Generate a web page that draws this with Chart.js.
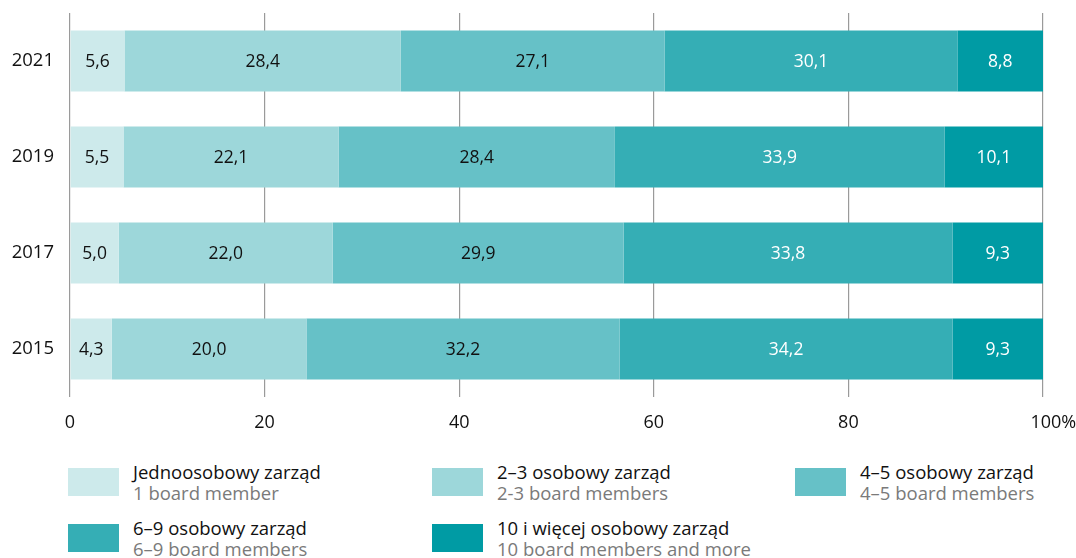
<!DOCTYPE html>
<html>
<head>
<meta charset="utf-8">
<script src="https://cdn.jsdelivr.net/npm/chart.js@4"></script>
<style>
  body{ margin:0; background:#fff; font-family:"Open Sans", sans-serif; }
  #wrap{ position:relative; width:1076px; height:558px; }
  #chart{ position:absolute; left:0; top:0; }
  #legend{ position:absolute; left:68px; top:458px; display:grid; grid-template-columns:364px 363px 280px; grid-auto-rows:56px; }
  .item{ display:flex; align-items:flex-start; }
  .sw{ width:51px; height:28px; margin-top:10px; flex:none; }
  .txt{ margin-left:14px; margin-top:3px; font-size:18.5px; line-height:21px; white-space:nowrap; }
  .pl{ color:#111; }
  .en{ color:#7a7a7a; }
</style>
</head>
<body>
<div id="wrap">
  <canvas id="chart" width="1076" height="445"></canvas>
  <div id="legend"></div>
</div>
<script>
// Board size structure by year
const years = ['2021','2019','2017','2015'];
const oneMember   = [5.6, 5.5, 5.0, 4.3];
const twoThree    = [28.4, 22.1, 22.0, 20.0];
const fourFive    = [27.1, 28.4, 29.9, 32.2];
const sixNine     = [30.1, 33.9, 33.8, 34.2];
const tenPlus     = [8.8, 10.1, 9.3, 9.3];
const xTicks      = [0, 20, 40, 60, 80, 100];

const namesPL = ['Jednoosobowy zarząd','2–3 osobowy zarząd','4–5 osobowy zarząd','6–9 osobowy zarząd','10 i więcej osobowy zarząd'];
const namesEN = ['1 board member','2-3 board members','4–5 board members','6–9 board members','10 board members and more'];
const colors  = ['#cdeaeb','#9dd7da','#66c1c7','#35aeb5','#009ba4'];
const labelColors = ['#111','#111','#111','#fff','#fff'];
const series = [oneMember, twoThree, fourFive, sixNine, tenPlus];

const FONT = '"Open Sans", sans-serif';

const valueLabels = {
  id:'valueLabels',
  afterDatasetsDraw(chart){
    const ctx = chart.ctx;
    ctx.save();
    ctx.font = '17.5px ' + FONT;
    ctx.textAlign = 'center'; ctx.textBaseline = 'middle';
    chart.data.datasets.forEach((ds,i)=>{
      chart.getDatasetMeta(i).data.forEach((bar,j)=>{
        const v = ds.data[j];
        const x = (bar.x + bar.base)/2;
        ctx.fillStyle = labelColors[i];
        ctx.fillText(v.toFixed(1).replace('.',','), x, bar.y + 1);
      });
    });
    ctx.restore();
  }
};

new Chart(document.getElementById('chart'), {
  type:'bar',
  data:{
    labels: years,
    datasets: series.map((d,i)=>({ label:namesPL[i], data:d, backgroundColor:colors[i], borderWidth:0,
      barPercentage:0.635, categoryPercentage:1 }))
  },
  options:{
    indexAxis:'y', responsive:false, animation:false,
    layout:{ padding:{ top:13, right:33, left:0, bottom:0 } },
    plugins:{ legend:{ display:false }, tooltip:{ enabled:false } },
    scales:{
      x:{ stacked:true, min:0, max:100,
        afterBuildTicks(s){ s.ticks = xTicks.map(v=>({value:v})); },
        afterFit(s){ s.height = 48; s.paddingLeft = 0; s.paddingRight = 0; },
        border:{ display:false },
        grid:{ color:'#9a9a9a', lineWidth:1.2, drawTicks:false },
        ticks:{ padding:15, color:'#111', font:{ family:FONT, size:18 },
          // keep "100" under the gridline, "%" hangs to the right
          callback:v=> v===100 ? '\u2007\u2007100%' : v }
      },
      y:{ stacked:true,
        afterFit(s){ s.width = 70; s.paddingTop = 0; s.paddingBottom = 0; },
        border:{ display:false },
        grid:{ display:false },
        ticks:{ padding:8, color:'#111', font:{ family:FONT, size:18.5 } }
      }
    }
  },
  plugins:[valueLabels]
});

// legend
const legendEl = document.getElementById('legend');
legendEl.innerHTML = namesPL.map((n,i)=>
  `<div class="item"><div class="sw" style="background:${colors[i]}"></div><div class="txt"><div class="pl">${n}</div><div class="en">${namesEN[i]}</div></div></div>`).join('');
</script>
</body>
</html>
